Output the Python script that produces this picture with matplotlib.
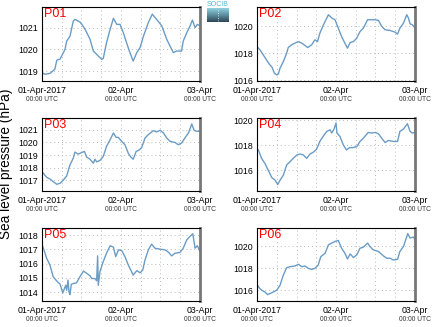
import numpy as np
import matplotlib
matplotlib.use('Agg')
import matplotlib.pyplot as plt
from matplotlib.colors import LinearSegmentedColormap

plt.rcParams['font.family'] = ['Liberation Sans', 'DejaVu Sans']

# 时间轴：从 01-Apr-2017 00:00 UTC 起的小时数
p01_h = [0, 0.9, 2.4, 3.9, 4.5, 5.5, 6.5, 7.0, 7.5, 8.5, 9.5, 10.0, 11.5, 12.1, 13.1, 14.6,
         15.6, 16.6, 18.1, 18.6, 19.6, 20.7, 21.7, 22.7, 23.7, 24.7, 25.7, 26.7, 27.7, 28.8,
         29.8, 30.8, 32.3, 33.5, 34.8, 36.4, 37.9, 38.9, 39.9, 40.9, 42.4, 42.9, 44.0, 45.0,
         45.7, 46.5, 47.2, 48.0]
p01_v = [1018.92, 1018.85, 1018.89, 1019.08, 1019.50, 1019.55, 1019.85, 1020.00, 1020.38,
         1020.60, 1021.30, 1021.38, 1021.26, 1021.15, 1020.92, 1020.46, 1019.92, 1019.77,
         1019.54, 1019.57, 1020.30, 1020.92, 1021.43, 1021.15, 1021.15, 1020.77, 1020.30,
         1019.85, 1019.46, 1019.85, 1020.08, 1020.60, 1021.23, 1021.62, 1021.38, 1021.08,
         1020.46, 1020.15, 1019.85, 1019.92, 1019.92, 1020.38, 1020.77, 1021.08, 1021.35,
         1021.00, 1021.15, 1021.08]

p02_h = [0, 0.9, 1.9, 2.9, 3.9, 4.5, 5.3, 6.0, 6.5, 7.0, 8.0, 9.0, 9.5, 10.5, 11.5, 12.6,
         13.6, 14.6, 15.4, 16.6, 17.6, 18.4, 19.1, 20.2, 21.7, 22.7, 23.7, 24.7, 25.7, 26.7,
         27.5, 28.3, 29.3, 30.3, 31.3, 32.3, 33.6, 34.8, 35.9, 36.9, 37.9, 38.9, 40.4, 41.9,
         42.7, 43.4, 44.5, 45.5, 46.0, 46.5, 47.2, 48.0]
p02_v = [1018.49, 1018.25, 1017.88, 1017.50, 1017.14, 1017.00, 1016.52, 1016.40, 1016.47,
         1016.90, 1017.38, 1018.00, 1018.42, 1018.62, 1018.74, 1018.86, 1018.74, 1018.57,
         1018.42, 1018.62, 1018.99, 1018.86, 1019.48, 1020.10, 1020.84, 1020.60, 1020.47,
         1019.85, 1019.23, 1018.74, 1018.37, 1018.79, 1018.86, 1019.11, 1019.60, 1019.85,
         1020.47, 1020.47, 1020.47, 1020.42, 1019.98, 1019.73, 1019.68, 1019.56, 1019.41,
         1019.85, 1020.22, 1020.84, 1020.60, 1020.17, 1020.10, 1019.85]

p03_h = [0, 0.4, 1.4, 2.4, 3.4, 4.5, 5.5, 6.5, 7.5, 8.5, 9.5, 10.0, 11.0, 12.1, 12.9, 13.6,
         14.6, 15.6, 16.1, 16.6, 17.6, 18.6, 19.6, 20.7, 21.7, 22.5, 23.2, 24.2, 25.2, 26.2,
         27.0, 27.7, 28.6, 29.6, 30.3, 31.3, 32.3, 33.8, 34.8, 35.9, 36.9, 37.9, 38.9, 40.4,
         41.4, 42.4, 43.4, 44.5, 45.5, 46.2, 47.0, 48.0]
p03_v = [1017.70, 1017.57, 1017.25, 1017.12, 1016.91, 1016.70, 1016.78, 1017.04, 1017.36,
         1018.23, 1018.76, 1019.24, 1019.08, 1019.21, 1019.29, 1018.84, 1018.68, 1018.36,
         1018.68, 1018.47, 1018.58, 1018.89, 1019.69, 1020.22, 1020.75, 1020.40, 1020.40,
         1020.09, 1019.82, 1019.16, 1018.84, 1018.68, 1019.29, 1019.42, 1019.61, 1020.35,
         1020.62, 1020.93, 1020.83, 1020.96, 1020.75, 1020.35, 1020.09, 1020.00, 1019.82,
         1019.95, 1020.35, 1020.75, 1021.46, 1020.96, 1020.88, 1020.88]

p04_h = [0, 0.4, 1.4, 2.4, 3.4, 4.5, 5.5, 6.3, 7.0, 8.0, 9.0, 10.0, 11.0, 12.1, 13.1, 14.1,
         15.1, 16.1, 17.1, 18.1, 19.1, 20.2, 21.2, 22.2, 22.7, 23.4, 24.0, 24.3, 25.2, 26.2,
         27.2, 28.1, 29.1, 30.3, 31.3, 32.3, 33.8, 34.8, 35.9, 36.9, 37.9, 38.9, 39.9, 41.4,
         42.7, 43.4, 44.5, 45.7, 46.5, 47.2, 48.0]
p04_v = [1017.76, 1017.62, 1016.95, 1016.55, 1016.01, 1015.42, 1015.21, 1014.86, 1015.21,
         1015.61, 1016.42, 1016.68, 1016.95, 1017.22, 1017.30, 1017.22, 1016.95, 1017.30,
         1017.44, 1017.68, 1018.30, 1018.75, 1019.10, 1019.23, 1018.97, 1019.29, 1019.77,
         1018.97, 1018.70, 1018.03, 1017.62, 1017.81, 1017.81, 1017.89, 1018.30, 1018.56,
         1019.02, 1018.97, 1019.02, 1018.91, 1018.56, 1018.21, 1018.38, 1018.30, 1018.30,
         1019.10, 1019.29, 1019.72, 1019.10, 1018.97, 1019.02]

p05_h = [0, 0.6, 1.4, 2.4, 3.4, 4.5, 5.5, 6.3, 6.7, 7.2, 7.5, 7.9, 8.2, 8.5, 8.9, 9.5,
         10.5, 11.5, 12.6, 13.6, 14.6, 15.1, 16.1, 16.6, 16.9, 17.1, 17.6, 18.6, 19.6, 20.7,
         21.7, 22.4, 23.2, 24.2, 25.2, 26.2, 27.2, 27.7, 28.8, 29.8, 30.6, 31.3, 32.3, 33.3,
         34.3, 35.9, 37.4, 38.4, 39.4, 40.4, 41.9, 42.9, 44.0, 45.0, 45.8, 46.5, 47.2, 48.0]
p05_v = [1017.32, 1016.96, 1016.38, 1015.91, 1015.08, 1014.78, 1014.56, 1013.95, 1014.19,
         1014.49, 1014.14, 1014.85, 1014.02, 1013.84, 1014.56, 1014.61, 1014.66, 1015.08,
         1015.48, 1015.32, 1015.15, 1014.96, 1014.96, 1014.80, 1016.54, 1014.49, 1015.44,
         1016.14, 1016.73, 1017.25, 1017.15, 1016.49, 1016.96, 1016.92, 1016.49, 1015.91,
         1015.44, 1015.20, 1015.51, 1015.36, 1015.55, 1016.26, 1016.96, 1017.36, 1017.08,
         1017.01, 1016.96, 1016.80, 1016.54, 1016.73, 1016.78, 1017.08, 1017.67, 1017.91,
         1018.09, 1017.08, 1017.25, 1016.85]

p06_h = [0, 0.6, 1.4, 2.4, 3.2, 3.9, 5.0, 6.0, 7.0, 8.0, 9.0, 10.0, 11.5, 12.6, 13.6, 14.6,
         15.6, 16.6, 17.6, 18.6, 19.4, 20.7, 21.7, 22.7, 23.7, 24.7, 25.7, 26.7, 27.5, 28.3,
         29.3, 30.3, 31.3, 32.3, 33.6, 34.3, 35.3, 36.9, 38.4, 39.4, 40.4, 41.4, 42.7, 43.4,
         44.5, 45.8, 46.5, 47.5, 48.0]
p06_v = [1016.56, 1016.26, 1016.02, 1015.86, 1015.62, 1015.71, 1015.86, 1016.02, 1016.47,
         1017.39, 1018.06, 1018.15, 1018.21, 1018.37, 1018.15, 1018.21, 1018.00, 1017.91,
         1018.00, 1018.31, 1019.07, 1019.37, 1020.14, 1020.29, 1020.44, 1020.53, 1019.83,
         1019.37, 1018.85, 1019.31, 1018.98, 1019.22, 1019.83, 1019.92, 1020.29, 1019.98,
         1019.68, 1019.53, 1019.13, 1018.92, 1018.92, 1018.76, 1018.82, 1019.53, 1019.98,
         1021.15, 1020.75, 1020.84, 1020.60]

stations = ['P01', 'P02', 'P03', 'P04', 'P05', 'P06']
hours = [p01_h, p02_h, p03_h, p04_h, p05_h, p06_h]
values = [p01_v, p02_v, p03_v, p04_v, p05_v, p06_v]
ylims = [(1018.54, 1021.95), (1015.95, 1021.41), (1016.17, 1021.93),
         (1014.35, 1020.17), (1013.39, 1018.49), (1015.04, 1021.66)]
yticks = [[1019, 1020, 1021], [1016, 1018, 1020], [1017, 1018, 1019, 1020, 1021],
          [1016, 1018, 1020], [1014, 1015, 1016, 1017, 1018], [1016, 1018, 1020]]
day_ticks = [0, 24, 48]
day_labels = ['01-Apr-2017', '02-Apr', '03-Apr']
time_label = '00:00 UTC'

W, H = 435, 327
fig = plt.figure(figsize=(W / 100, H / 100), dpi=100)

# 面板位置（像素）：左右、上下
col_x = [(42, 200), (257, 415)]
row_y = [(7, 81), (118, 191), (228, 301)]

line_color = '#6b9cc6'

for i, name in enumerate(stations):
    x0, x1 = col_x[i % 2]
    y0, y1 = row_y[i // 2]
    ax = fig.add_axes([x0 / W, 1 - y1 / H, (x1 - x0) / W, (y1 - y0) / H])

    ax.plot(hours[i], values[i], color=line_color, lw=1.0)
    ax.set_xlim(0, 48)
    ax.set_ylim(*ylims[i])
    ax.set_yticks(yticks[i])
    ax.set_yticklabels([str(t) for t in yticks[i]], fontsize=6.3)

    ax.set_xticks(day_ticks)
    ax.set_xticklabels(day_labels, fontsize=6.3)
    ax.set_xticks(np.arange(0, 49, 6), minor=True)
    ax.tick_params(axis='both', which='both', length=0, pad=3)
    ax.tick_params(axis='x', pad=3.5)

    ax.grid(True, which='both', axis='x', color='#bbbbbb', ls=(0, (1, 3)), lw=0.7)
    ax.grid(True, which='major', axis='y', color='#bbbbbb', ls=(0, (1, 3)), lw=0.7)

    for side in ['left', 'top', 'bottom']:
        ax.spines[side].set_linewidth(0.8)
    ax.spines['right'].set_color('#777777')
    ax.spines['right'].set_linewidth(2.0)

    # 日期下面的第二行时间
    for t in day_ticks:
        ax.annotate(time_label, xy=(t, 0), xycoords=('data', 'axes fraction'),
                    xytext=(0, -10.8), textcoords='offset points',
                    ha='center', va='top', fontsize=4.8, color='#333333')

    ax.text(0.01, 0.98, name, transform=ax.transAxes, ha='left', va='top',
            fontsize=9, color='red')

fig.text(6 / W, 1 - 164 / H, 'Sea level pressure (hPa)', rotation=90,
         ha='center', va='center', fontsize=9.8)

# 顶部小标志
logo = fig.add_axes([207 / W, 1 - 22 / H, 22 / W, 14 / H])
cmap = LinearSegmentedColormap.from_list('logo', ['#8fd0df', '#5d8ea0', '#2e4453'])
logo.imshow(np.linspace(0, 1, 50).reshape(-1, 1), aspect='auto', cmap=cmap)
logo.plot([0, 0], [5, 45], color='white', ls=(0, (1, 2)), lw=0.6)
logo.set_xlim(-0.5, 0.5)
logo.axis('off')
fig.text(218 / W, 1 - 4 / H, 'SOCIB', ha='center', va='center', fontsize=5,
         color='#4bb8d0')

fig.savefig('out.png', dpi=100)
